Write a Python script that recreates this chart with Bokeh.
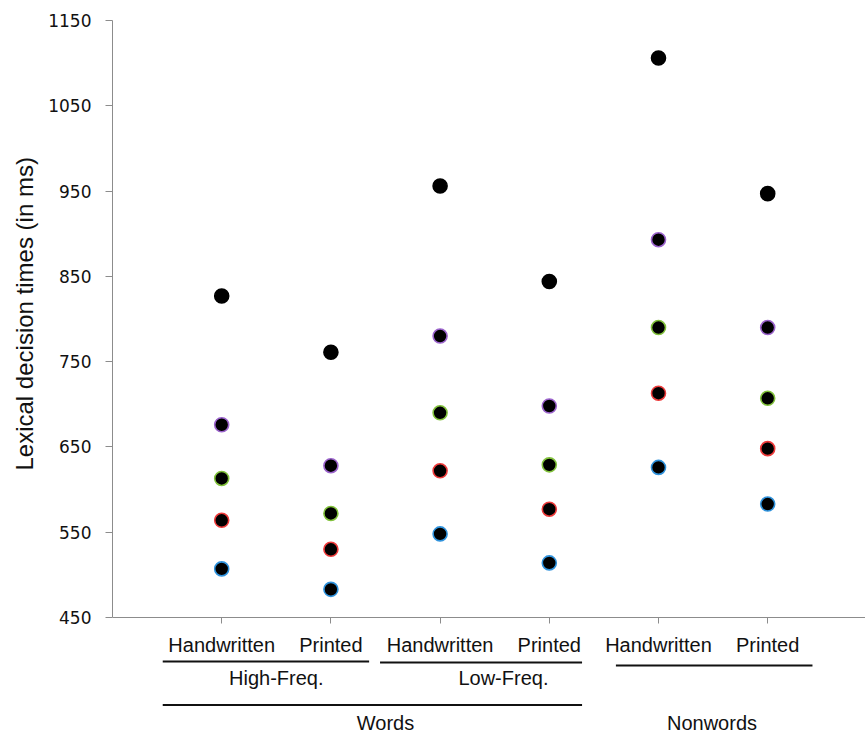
from bokeh.plotting import figure
from bokeh.models import Range1d, FixedTicker, Title
from bokeh.core.properties import value
from bokeh.embed import file_html
from bokeh.resources import INLINE

# ---- data ----
conditions = ["Handwritten", "Printed", "Handwritten", "Printed", "Handwritten", "Printed"]
freq_groups = ["High-Freq.", "Low-Freq."]
lex_groups = ["Words", "Nonwords"]
q90 = [827, 761, 956, 844, 1106, 947]
q70 = [676, 628, 780, 698, 893, 790]
q50 = [613, 572, 690, 629, 790, 707]
q30 = [564, 530, 622, 577, 713, 648]
q10 = [507, 483, 548, 514, 626, 583]
y_ticks = [450, 550, 650, 750, 850, 950, 1050, 1150]
y_title = "Lexical decision times (in ms)"

series = [q90, q70, q50, q30, q10]
edge_colors = ["#000000", "#9b63cc", "#82c23c", "#ee3b3b", "#2f92dc"]

xs = list(range(1, len(conditions) + 1))

# ---- layout (pixels) ----
W, H = 865, 732
top, left = 20, 112
axis_px = 617                 # pixel row of the 450 line
ppu = (axis_px - top) / (1150 - 450)
y_lo = 450 - (H - axis_px) / ppu
x_hi = (W - left) / 109.2

p = figure(width=W, height=H, output_backend="svg", toolbar_location=None,
           x_range=Range1d(0, x_hi), y_range=Range1d(y_lo, 1150),
           min_border_top=top, min_border_bottom=0, min_border_left=left,
           min_border_right=0)
p.outline_line_color = None
p.grid.visible = False
p.background_fill_color = "white"
p.border_fill_color = "white"

for vals, col in zip(series, edge_colors):
    p.scatter(xs, vals, size=14, fill_color="black", line_color=col, line_width=1.6)

# y axis
ya = p.yaxis[0]
ya.bounds = (450, 1150)
ya.ticker = FixedTicker(ticks=y_ticks)
ya.minor_tick_line_color = None
ya.axis_line_color = "#8c8c8c"
ya.major_tick_line_color = "#8c8c8c"
ya.major_tick_in = 0
ya.major_tick_out = 7
ya.major_label_standoff = 14
ya.major_label_text_font = "DejaVu Sans"
ya.major_label_text_font_size = "17px"
ya.major_label_text_color = "#111111"

# y title placed along the 450-1150 stretch
p.add_layout(Title(text=y_title, align="left", offset=262, standoff=16,
                   text_font="Liberation Sans", text_font_style="normal",
                   text_font_size="24px", text_color="#111111"), "left")

# x axis, fixed on the 450 line
xa = p.xaxis[0]
xa.fixed_location = 450
xa.ticker = FixedTicker(ticks=xs)
xa.major_label_overrides = {x: c for x, c in zip(xs, conditions)}
xa.minor_tick_line_color = None
xa.axis_line_color = "#8c8c8c"
xa.major_tick_line_color = "#8c8c8c"
xa.major_tick_in = 0
xa.major_tick_out = 6
xa.major_label_standoff = 10
xa.major_label_text_font = "Liberation Sans"
xa.major_label_text_font_size = "20px"
xa.major_label_text_color = "#111111"


# ---- grouping lines and labels below the axis ----
def y_at(px):
    """data y for a row px pixels below the 450 line"""
    return 450 - px / ppu


seg_x0 = [0.46, 2.45, 4.61, 0.46]
seg_x1 = [2.35, 4.30, 6.41, 4.30]
seg_px = [44, 45, 48, 87.5]
p.segment(seg_x0, [y_at(v) for v in seg_px], seg_x1, [y_at(v) for v in seg_px],
          line_color="#111111", line_width=2)

p.text([1.50, 3.58], [y_at(60.5)] * 2, text=freq_groups,
       text_font=value("Liberation Sans"), text_font_size=value("20px"),
       text_align="center", text_baseline="middle", text_color="#111111")
p.text([2.50, 5.49], [y_at(105)] * 2, text=lex_groups,
       text_font=value("Liberation Sans"), text_font_size=value("20px"),
       text_align="center", text_baseline="middle", text_color="#111111")

open("out.html", "w").write(file_html(p, INLINE))
